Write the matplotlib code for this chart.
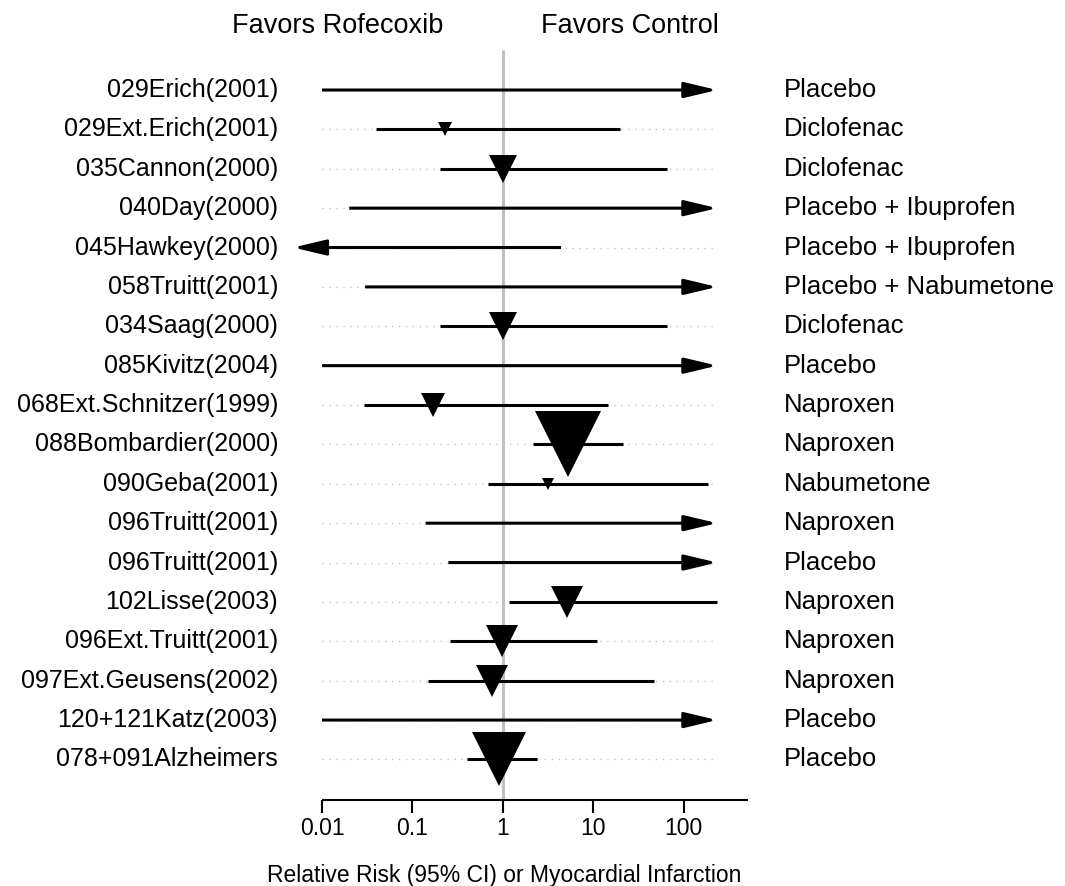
import numpy as np
import matplotlib
matplotlib.use("Agg")
import matplotlib.pyplot as plt
from matplotlib.ticker import NullLocator, FixedLocator, FixedFormatter
from matplotlib.transforms import blended_transform_factory

# ---------------- data ----------------
studies = ["029Erich(2001)", "029Ext.Erich(2001)", "035Cannon(2000)", "040Day(2000)",
           "045Hawkey(2000)", "058Truitt(2001)", "034Saag(2000)", "085Kivitz(2004)",
           "068Ext.Schnitzer(1999)", "088Bombardier(2000)", "090Geba(2001)",
           "096Truitt(2001)", "096Truitt(2001)", "102Lisse(2003)", "096Ext.Truitt(2001)",
           "097Ext.Geusens(2002)", "120+121Katz(2003)", "078+091Alzheimers"]
controls = ["Placebo", "Diclofenac", "Diclofenac", "Placebo + Ibuprofen",
            "Placebo + Ibuprofen", "Placebo + Nabumetone", "Diclofenac", "Placebo",
            "Naproxen", "Naproxen", "Nabumetone", "Naproxen", "Placebo", "Naproxen",
            "Naproxen", "Naproxen", "Placebo", "Placebo"]
nan = np.nan
rr = [nan, 0.23, 1.0, nan, nan, nan, 1.0, nan, 0.17, 5.2, 3.16, nan, nan, 5.1,
      0.97, 0.75, nan, 0.9]
lower = [0.01, 0.04, 0.2, 0.02, 0.001, 0.03, 0.2, 0.01, 0.029, 2.15, 0.68, 0.14,
         0.25, 1.17, 0.26, 0.15, 0.01, 0.4]
upper = [1000, 20, 65, 1000, 4.4, 1000, 65, 1000, 14.7, 21.5, 185, 1000, 1000, 235,
         11.1, 47.6, 1000, 2.39]
weight = [nan, 0.215, 0.43, nan, nan, nan, 0.415, nan, 0.37, 1.0, 0.17, nan, nan,
          0.477, 0.477, 0.49, nan, 0.815]
tick_values = [0.01, 0.1, 1, 10, 100]
tick_labels = ["0.01", "0.1", "1", "10", "100"]
clip_lo, clip_hi = 0.0048, 235
x_range = (0.01, 515)

# ---------------- figure ----------------
plt.rcParams['font.family'] = ['Liberation Sans', 'DejaVu Sans']
W, H = 1065, 886
fig = plt.figure(figsize=(W / 100, H / 100), dpi=100)
ax = fig.add_axes([322 / W, 1 - 800 / H, (748 - 322) / W, (800 - 40) / H])
ax.set_xscale('log')
ax.set_xlim(*x_range)
ax.set_ylim(18.03, -1.27)

n = len(studies)
ci_lw = 2.2
arrow_style = '-|>,head_length=0.4,head_width=0.095'

# vertical reference line at RR = 1
ax.plot([1, 1], [-1.016, 18.03], color='#c0c0c0', lw=2.2, zorder=0,
        solid_capstyle='butt', clip_on=False)

for k in range(n):
    # dotted guide
    ax.plot([x_range[0], clip_hi], [k, k], color='#c4c4c4', lw=1.0,
            ls=(0, (1, 4)), zorder=1, clip_on=False)
    lo = max(lower[k], clip_lo)
    hi = min(upper[k], clip_hi)
    if upper[k] > clip_hi:
        ax.annotate('', xy=(clip_hi, k), xytext=(lo, k),
                    arrowprops=dict(arrowstyle=arrow_style, lw=ci_lw, color='black',
                                    mutation_scale=50, shrinkA=0, shrinkB=0,
                                    capstyle='butt'),
                    annotation_clip=False, zorder=3)
    elif lower[k] < clip_lo:
        ax.annotate('', xy=(clip_lo, k), xytext=(hi, k),
                    arrowprops=dict(arrowstyle=arrow_style, lw=ci_lw, color='black',
                                    mutation_scale=50, shrinkA=0, shrinkB=0,
                                    capstyle='butt'),
                    annotation_clip=False, zorder=3)
    else:
        ax.plot([lo, hi], [k, k], color='black', lw=ci_lw, solid_capstyle='butt',
                zorder=3, clip_on=False)
    if not np.isnan(rr[k]):
        ax.plot(rr[k], k, marker='v', ms=47 * weight[k], color='black', mew=0,
                zorder=4, clip_on=False)

# labels
trans = blended_transform_factory(fig.transFigure, ax.transData)
for k in range(n):
    ax.text(278 / W, k + 0.178, studies[k], transform=trans, ha='right',
            va='baseline', fontsize=18)
    ax.text(784 / W, k + 0.178, controls[k], transform=trans, ha='left',
            va='baseline', fontsize=18.5)

fig.text(338 / W, 1 - 33 / H, "Favors Rofecoxib", ha='center', va='baseline',
         fontsize=19.5)
fig.text(630 / W, 1 - 33 / H, "Favors Control", ha='center', va='baseline',
         fontsize=19.5)
fig.text(504 / W, 1 - 882 / H, "Relative Risk (95% CI) or Myocardial Infarction",
         ha='center', va='baseline', fontsize=16.5)

# axis
for s in ['top', 'left', 'right']:
    ax.spines[s].set_visible(False)
ax.spines['bottom'].set_linewidth(1.5)
ax.spines['bottom'].set_capstyle('butt')
ax.xaxis.set_major_locator(FixedLocator(tick_values))
ax.xaxis.set_major_formatter(FixedFormatter(tick_labels))
ax.xaxis.set_minor_locator(NullLocator())
ax.set_yticks([])
ax.tick_params(axis='x', length=9.5, width=1.5, pad=3, labelsize=16.5)
ax.patch.set_visible(False)

fig.savefig("out.png", dpi=100)
